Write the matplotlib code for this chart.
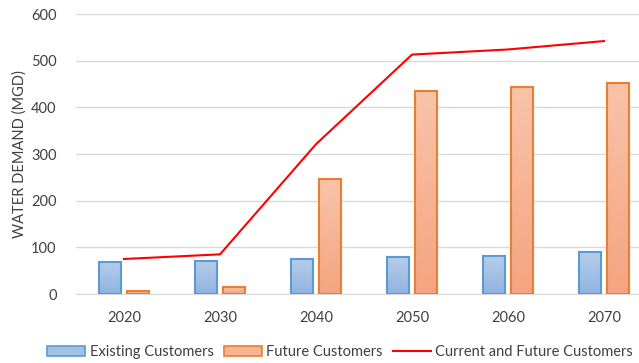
import numpy as np
import matplotlib.pyplot as plt
from matplotlib.colors import LinearSegmentedColormap
from matplotlib.patches import Patch
from matplotlib.lines import Line2D

plt.rcParams['font.family'] = ['Lato', 'DejaVu Sans']

# Water demand projections (MGD)
years = ['2020', '2030', '2040', '2050', '2060', '2070']
existing = [69, 71, 75, 79, 81, 89]
future = [6, 14, 246, 434, 443, 453]
total = [e + f for e, f in zip(existing, future)]

blue_edge = '#5b9bd5'
orange_edge = '#ed7d31'
blue_cmap = LinearSegmentedColormap.from_list('blue_grad', ['#b7cde9', '#8fb4e0'])
orange_cmap = LinearSegmentedColormap.from_list('orange_grad', ['#f8c4a9', '#f4a480'])
text_color = '#404040'


def gradient_bars(ax, x, heights, width, cmap, edge):
    """Draw bars with a vertical top-to-bottom gradient fill."""
    bars = ax.bar(x, heights, width, facecolor='none', edgecolor=edge,
                  linewidth=1.5, zorder=3)
    grad = np.linspace(0, 1, 256).reshape(-1, 1)
    for b in bars:
        x0, y0 = b.get_x(), b.get_y()
        w, h = b.get_width(), b.get_height()
        im = ax.imshow(grad, cmap=cmap, aspect='auto', origin='upper',
                       extent=[x0, x0 + w, y0, y0 + h], zorder=2)
        im.set_clip_path(b)
    return bars


fig = plt.figure(figsize=(6.39, 3.63), dpi=100)
ax = fig.add_axes([76 / 639, 69 / 363, 576 / 639, 280 / 363])

x = np.arange(len(years))
bw = 0.23
off = 0.146
gradient_bars(ax, x - off, existing, bw, blue_cmap, blue_edge)
gradient_bars(ax, x + off, future, bw, orange_cmap, orange_edge)
ax.plot(x, total, color='#ff0000', linewidth=1.5, zorder=4)

ax.set_xlim(-0.5, 5.5)
ax.set_ylim(0, 600)
ax.set_yticks(range(0, 601, 100))
ax.set_xticks(x)
ax.set_xticklabels(years)
ax.grid(axis='y', color='#d9d9d9', linewidth=1)
ax.set_axisbelow(True)
for s in ['top', 'right', 'left']:
    ax.spines[s].set_visible(False)
ax.spines['bottom'].set_color('#d9d9d9')
ax.tick_params(axis='both', length=0, labelsize=10.5, colors=text_color)
ax.tick_params(axis='x', pad=12)
ax.tick_params(axis='y', pad=14)
ax.set_ylabel('WATER DEMAND (MGD)', fontsize=10.5, color=text_color, labelpad=3)

handles = [
    Patch(facecolor='#a4c1e5', edgecolor=blue_edge, linewidth=1.2),
    Patch(facecolor='#f6b495', edgecolor=orange_edge, linewidth=1.2),
    Line2D([], [], color='#ff0000', linewidth=1.5),
]
labels = ['Existing Customers', 'Future Customers', 'Current and Future Customers']
leg = fig.legend(handles, labels, loc='center', bbox_to_anchor=(340 / 639, 1 - 352 / 363),
                 ncol=3, frameon=False, fontsize=10.5, handlelength=2.6,
                 handletextpad=0.3, columnspacing=0.7)
for t in leg.get_texts():
    t.set_color(text_color)

fig.savefig('out.png', dpi=100)
